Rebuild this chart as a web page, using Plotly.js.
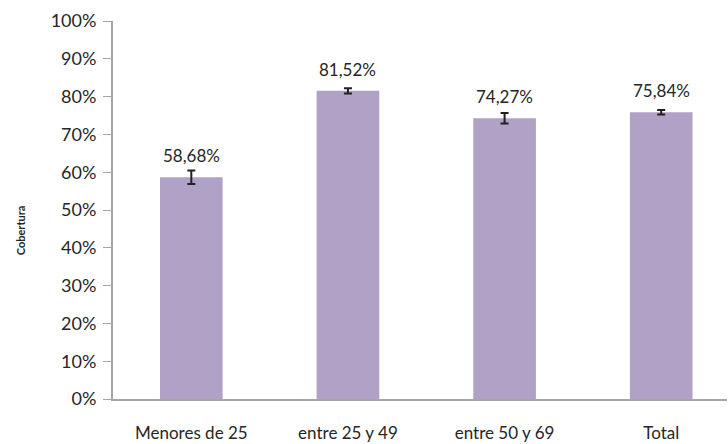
<!DOCTYPE html>
<html>
<head>
<meta charset="utf-8">
<script src="https://cdn.plot.ly/plotly-3.0.1.min.js"></script>
<style>html,body{margin:0;padding:0;background:#fff;}#chart{width:728px;height:444px;}</style>
</head>
<body>
<div id="chart"></div>
<script>
const categories = ["Menores de 25", "entre 25 y 49", "entre 50 y 69", "Total"];
const coverage = [0.5868, 0.8152, 0.7427, 0.7584];
const errors = [0.018, 0.007, 0.014, 0.006];
const yTickVals = [0, 0.1, 0.2, 0.3, 0.4, 0.5, 0.6, 0.7, 0.8, 0.9, 1.0];
const yTitle = "Cobertura";

const fontFam = "Lato, 'Open Sans', sans-serif";
const textColor = "#262626";

const fmt = v => (v * 100).toFixed(2).replace('.', ',') + '%';

const trace = {
  type: 'bar',
  x: categories,
  y: coverage,
  width: 0.4,
  marker: {color: '#b0a1c7'},
  error_y: {type: 'data', array: errors, visible: true, color: '#231f20', thickness: 2, width: 4},
  hoverinfo: 'none'
};

const annotations = categories.map((c, i) => ({
  x: c, y: coverage[i], xref: 'x', yref: 'y',
  text: fmt(coverage[i]), showarrow: false,
  yanchor: 'bottom', yshift: 9,
  font: {family: fontFam, size: 17, color: textColor}
}));
annotations.push({
  xref: 'paper', yref: 'paper', x: -0.165, y: 0.447,
  text: yTitle, showarrow: false, textangle: -90,
  font: {family: fontFam, size: 11, color: textColor, weight: 'bold'}
});

const layout = {
  width: 728, height: 444,
  margin: {l: 113, r: 1, t: 21, b: 45},
  paper_bgcolor: '#fff', plot_bgcolor: '#fff',
  separators: ',.',
  showlegend: false,
  xaxis: {
    type: 'category',
    range: [-0.5, 3.42],
    showline: true, linecolor: '#a6a6a6', linewidth: 2,
    ticks: '', ticklabelstandoff: 18,
    tickfont: {family: fontFam, size: 17, color: textColor},
    showgrid: false, zeroline: false
  },
  yaxis: {
    range: [0, 1],
    tickvals: yTickVals,
    tickformat: '.0%',
    showline: true, linecolor: '#a6a6a6', linewidth: 2,
    ticks: 'outside', ticklen: 8, tickcolor: '#a6a6a6', tickwidth: 1,
    ticklabelstandoff: 3,
    tickfont: {family: fontFam, size: 18, color: textColor},
    showgrid: false, zeroline: false
  },
  annotations: annotations
};

Plotly.newPlot('chart', [trace], layout, {displayModeBar: false, staticPlot: true});
</script>
</body>
</html>
